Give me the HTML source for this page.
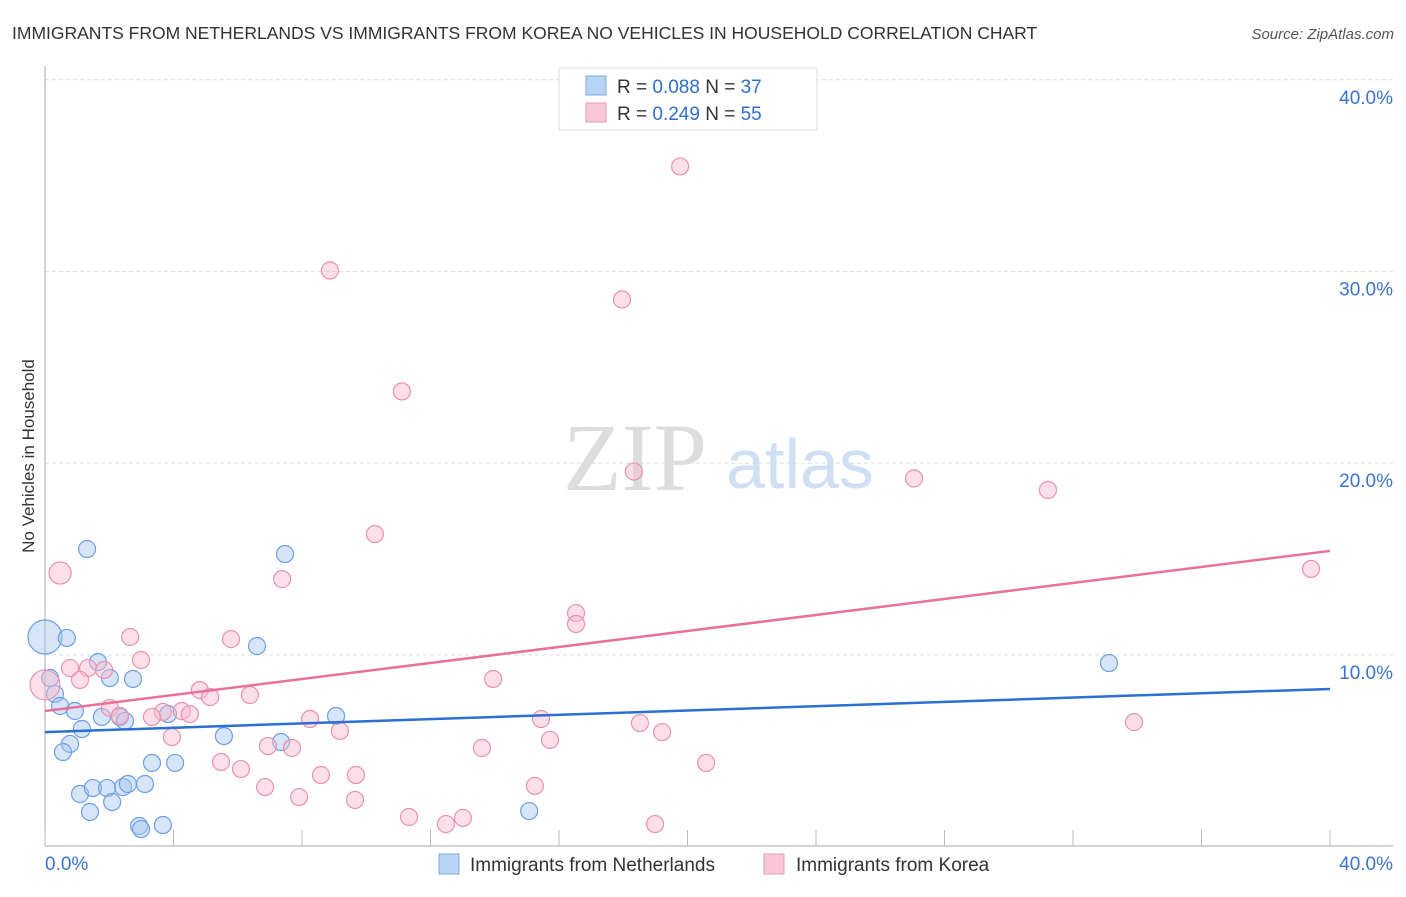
<!DOCTYPE html>
<html><head><meta charset="utf-8"><style>
body{margin:0;background:#fff;font-family:"Liberation Sans",sans-serif;}
svg text{font-family:"Liberation Sans",sans-serif;}
</style></head><body>
<svg id="chart" width="1406" height="892">
<text x="12" y="39" font-size="17.5" fill="#333">IMMIGRANTS FROM NETHERLANDS VS IMMIGRANTS FROM KOREA NO VEHICLES IN HOUSEHOLD CORRELATION CHART</text>
<text x="1394" y="39" font-size="15" fill="#555" font-style="italic" text-anchor="end">Source: ZipAtlas.com</text>
<text transform="translate(34,456) rotate(-90)" font-size="17" fill="#333" text-anchor="middle">No Vehicles in Household</text>
<text x="635" y="490" font-size="96" fill="#ddd" font-family="Liberation Serif" text-anchor="middle" style="font-family:'Liberation Serif',serif">ZIP</text>
<text x="800" y="488" font-size="70" fill="#cfe0f4" text-anchor="middle">atlas</text>
<g id="grid"></g><g id="axes"></g><g id="pts"></g><g id="lines"></g>
<g>
<rect x="559" y="68" width="258" height="62" fill="#fff" stroke="#ddd"/>
<rect x="586" y="76" width="20" height="19" fill="#b8d4f5" stroke="#7ea8e0"/>
<rect x="586" y="103" width="20" height="19" fill="#f8c8d8" stroke="#eb9ab5"/>
<text x="617" y="93" font-size="19" fill="#333">R = <tspan fill="#2f6fd0">0.088</tspan>   N = <tspan fill="#2f6fd0">37</tspan></text>
<text x="617" y="120" font-size="19" fill="#333">R = <tspan fill="#2f6fd0">0.249</tspan>   N = <tspan fill="#2f6fd0">55</tspan></text>
</g>
<rect x="439" y="854" width="20" height="20" fill="#b8d4f5" stroke="#7ea8e0"/>
<text x="470" y="871" font-size="19" fill="#333">Immigrants from Netherlands</text>
<rect x="764" y="854" width="20" height="20" fill="#f8c8d8" stroke="#eb9ab5"/>
<text x="796" y="871" font-size="19" fill="#333">Immigrants from Korea</text>
</svg>
<script>
const yTicks=[10,20,30,40];
const yTickLabels=["10.0%","20.0%","30.0%","40.0%"];
const xTicks=[0,4,8,12,16,20,24,28,32,36,40];
const xEdgeLabels=["0.0%","40.0%"];
const nlX=[0,0.68,1.31,7.47,6.60,1.65,2.02,2.74,0.31,0.47,0.93,1.77,2.33,2.49,3.83,1.15,5.57,7.35,9.06,0.78,0.56,3.33,4.05,1.09,1.49,1.93,2.09,2.43,2.58,3.11,1.40,2.93,2.99,3.67,15.07,33.12,0.16];
const nlY=[10.93,10.88,15.52,15.26,10.46,9.62,8.79,8.74,7.96,7.33,7.07,6.76,6.76,6.55,6.91,6.13,5.76,5.45,6.81,5.35,4.93,4.36,4.36,2.74,3.05,3.05,2.32,3.10,3.26,3.26,1.80,1.07,0.91,1.12,1.85,9.57,8.79];
const nlW=[4,1,1,1,1,1,1,1,1,1,1,1,1,1,1,1,1,1,1,1,1,1,1,1,1,1,1,1,1,1,1,1,1,1,1,1,1];
const krX=[0.47,19.77,8.87,17.96,11.11,18.33,27.05,31.22,10.27,7.38,16.53,16.53,39.41,2.65,5.79,2.99,0.78,1.34,1.84,1.09,0,13.95,4.82,6.38,5.14,2.02,3.67,4.26,4.51,3.33,2.33,8.25,15.44,18.52,33.90,9.18,3.95,19.21,15.72,6.94,7.69,13.60,5.48,6.10,20.58,8.59,9.68,6.85,7.91,9.65,15.25,11.33,12.48,13.01,18.99];
const krY=[14.27,35.48,30.05,28.54,23.74,19.56,19.20,18.60,16.30,13.95,12.18,11.61,14.48,10.93,10.82,9.73,9.31,9.31,9.21,8.69,8.43,8.74,8.16,7.90,7.80,7.23,7.02,7.07,6.91,6.76,6.81,6.65,6.65,6.44,6.49,6.03,5.71,5.97,5.56,5.24,5.14,5.14,4.41,4.04,4.36,3.73,3.73,3.10,2.58,2.43,3.16,1.54,1.17,1.49,1.17];
const krW=[1.7,1,1,1,1,1,1,1,1,1,1,1,1,1,1,1,1,1,1,1,3.1,1,1,1,1,1,1,1,1,1,1,1,1,1,1,1,1,1,1,1,1,1,1,1,1,1,1,1,1,1,1,1,1,1,1];
const nlTrend=[5.97,8.22];
const krTrend=[7.07,15.42];
const NS="http://www.w3.org/2000/svg";
const X0=45,X1=1330,Y0=846.5,Y1=79.8;
function sx(v){return X0+(X1-X0)*v/40;}
function sy(v){return Y0+(Y1-Y0)*v/40;}
function mk(t,a,p){const e=document.createElementNS(NS,t);for(const k in a)e.setAttribute(k,a[k]);p.appendChild(e);return e;}
const grid=document.getElementById('grid'),axes=document.getElementById('axes'),pts=document.getElementById('pts'),lines=document.getElementById('lines');
yTicks.forEach((v,i)=>{
 const l=mk('line',{x1:X0,x2:1393,y1:sy(v),y2:sy(v),stroke:'#ddd','stroke-dasharray':'4,3'},grid);
 
 
 const t=mk('text',{x:1393,y:sy(v)+24,'font-size':19,fill:'#3a73d0','text-anchor':'end'},grid);
 t.textContent=yTickLabels[i];
 
 
});
const ya=mk('line',{x1:X0,x2:X0,y1:66,y2:846,stroke:'#aaa'},axes);


const xa=mk('line',{x1:X0,x2:1393,y1:846,y2:846,stroke:'#aaa'},axes);


xTicks.forEach(v=>{
 const t=mk('line',{x1:sx(v),x2:sx(v),y1:830,y2:846,stroke:'#bbb'},axes);
 
 
});
[[0,'start',45],[40,'end',1393]].forEach((d,i)=>{
 const t=mk('text',{x:d[2],y:870,'font-size':19,fill:'#3a73d0','text-anchor':d[1]},axes);
 t.textContent=xEdgeLabels[i];
 
 
});
function draw(xs,ys,ws,fill,stroke,name){
 xs.forEach((x,i)=>{
  const c=mk('circle',{cx:sx(x),cy:sy(ys[i]),r:8.5*Math.sqrt(ws[i]),fill:fill,stroke:stroke,'stroke-width':1.2},pts);
  
  
 });
}
draw(nlX,nlY,nlW,'rgba(164,198,240,0.45)','#6d9fe2','point-netherlands');
draw(krX,krY,krW,'rgba(248,185,205,0.45)','#e992b0','point-korea');
const bl=mk('line',{x1:sx(0),y1:sy(nlTrend[0]),x2:sx(40),y2:sy(nlTrend[1]),stroke:'#2a6fd4','stroke-width':2.5},lines);


const pl=mk('line',{x1:sx(0),y1:sy(krTrend[0]),x2:sx(40),y2:sy(krTrend[1]),stroke:'#e8719a','stroke-width':2.5},lines);


</script>
</body></html>
